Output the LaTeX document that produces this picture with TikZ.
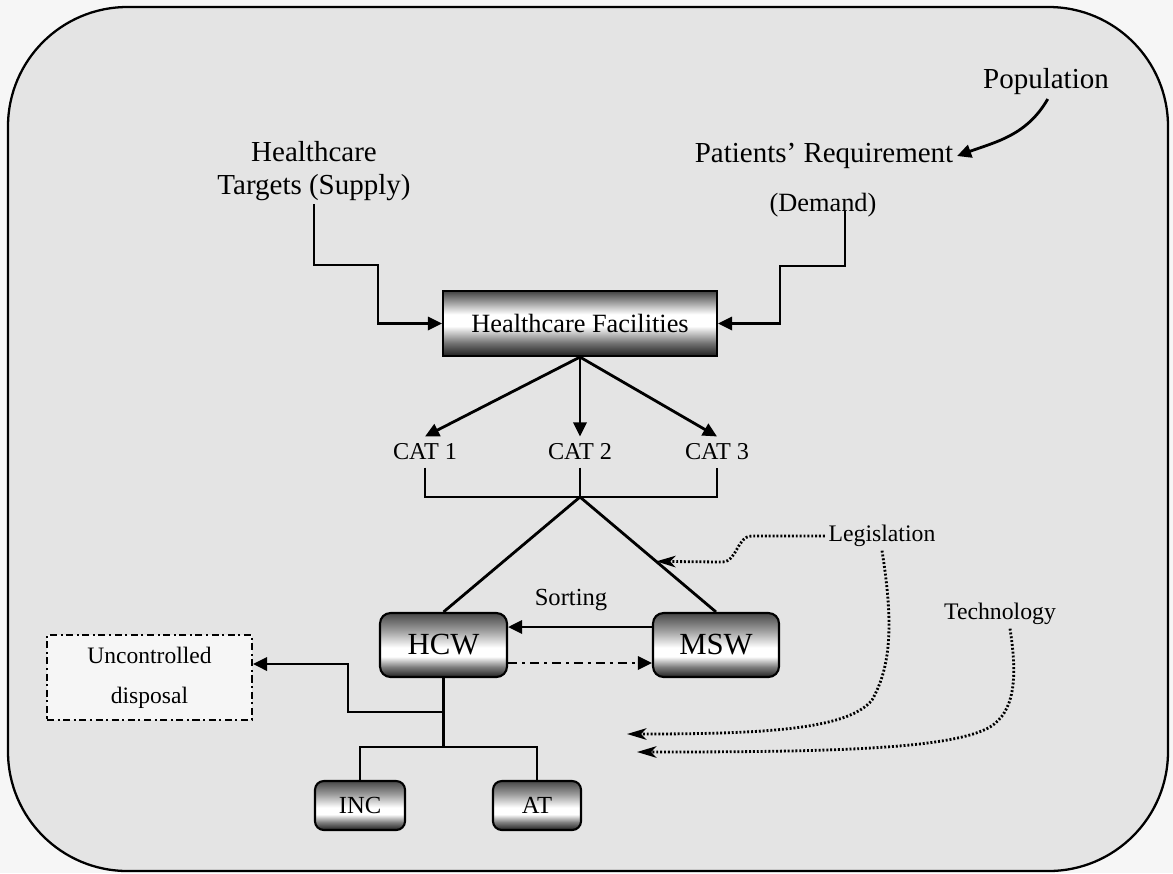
\documentclass[tikz,border=0pt]{standalone}
\usepackage{fontspec}
\setmainfont{Liberation Serif}
\usetikzlibrary{arrows.meta,calc}

\definecolor{paper}{RGB}{228,228,228}
\definecolor{margin}{RGB}{246,246,246}
\colorlet{shA}{black!88}
\colorlet{shB}{black!55}
\colorlet{shC}{black!45}
\colorlet{shD}{black!74}
\colorlet{shE}{black!87}
\colorlet{shF}{black!50}
\colorlet{shG}{black!40}
\colorlet{shH}{black!72}

% metallic bar shadings (path spans 25bp..75bp, bottom to top)
\pgfdeclareverticalshading{hfshade}{100bp}{color(0bp)=(shA); color(25bp)=(shA); color(35bp)=(shB); color(48bp)=(white); color(57bp)=(white); color(68bp)=(shC); color(75bp)=(shD); color(100bp)=(shD)}
\pgfdeclareverticalshading{btnshade}{100bp}{color(0bp)=(shE); color(25bp)=(shE); color(33bp)=(shF); color(41bp)=(white); color(48bp)=(white); color(62bp)=(shG); color(75bp)=(shH); color(100bp)=(shH)}

\begin{document}
\begin{tikzpicture}[x=0.02cm,y=-0.02cm,
  lbl/.style={inner sep=2pt, align=center, font=\fontsize{16.5pt}{18.7pt}\selectfont},
  small/.style={inner sep=2pt, font=\fontsize{13.5pt}{16pt}\selectfont},
  catlbl/.style={inner sep=4pt, font=\fontsize{13.8pt}{15pt}\selectfont},
  ln/.style={line width=1.6pt},
  arr/.style={line width=1.6pt, -{Triangle[length=8pt,width=7.5pt]}},
  dasharr/.style={line width=1.6pt, dash pattern=on 5pt off 3pt on 1.5pt off 3pt, -{Triangle[length=8pt,width=7.5pt]}},
  dotarr/.style={line width=1.6pt, dash pattern=on 1.1pt off 1.1pt, -{Stealth[length=11pt,width=6.5pt,inset=3pt]}},
  hfbox/.style={draw, line width=1.2pt, shade, shading=hfshade, inner sep=0pt,
    minimum width=5.48cm, minimum height=1.3cm, font=\fontsize{15pt}{18pt}\selectfont},
  btn/.style={draw, line width=1.2pt, rounded corners=6pt, shade, shading=btnshade, inner sep=0pt},
]
\useasboundingbox (0,0) rectangle (1173,873);
\fill[margin] (0,0) rectangle (1173,873);
\draw[line width=1.3pt, fill=paper, rounded corners=68pt] (8,7) rectangle (1168,871);

% supply and demand
\node[lbl] (pop) at (1046,82) {Population};
\node[lbl] (ht) at (314,171) {Healthcare\\Targets (Supply)};
\node[lbl] (pr) at (824,156) {Patients’ Requirement};
\node[lbl, font=\fontsize{15pt}{18pt}\selectfont] (dm) at (823,205) {(Demand)};
\coordinate (dmtap) at (845,211);

\node[hfbox] (hf) at (580,323.5) {Healthcare Facilities};

\draw[arr] ([xshift=1pt]pop.south) to[out=-120,in=20] (pr.east);
\draw[arr] (ht.south) |- (378,265) |- (hf.west);
\draw[arr] (dmtap) |- (780,266) |- (hf.east);

% waste categories
\node[catlbl] (c1) at (425,452) {CAT 1};
\node[catlbl] (c2) at (580,452) {CAT 2};
\node[catlbl] (c3) at (717,452) {CAT 3};
\draw[arr] (hf.south) -- (c1.north);
\draw[arr] (hf.south) -- (c2.north);
\draw[arr] (hf.south) -- (c3.north);

\coordinate (j) at (580,497);
\draw[ln] (c1.south) |- (j) -| (c3.south);
\draw[ln] (c2.south) -- (j);

% waste streams
\node[btn, minimum width=2.54cm, minimum height=1.28cm, font=\fontsize{17.5pt}{20pt}\selectfont] (hcw) at (443.5,645) {HCW};
\node[btn, minimum width=2.52cm, minimum height=1.28cm, font=\fontsize{17.5pt}{20pt}\selectfont] (msw) at (716,645) {MSW};
\draw[ln] (hcw.north) -- (j) -- (msw.north);

\node[inner sep=2pt, font=\fontsize{14pt}{16pt}\selectfont] (srt) at (571,600) {Sorting};
\draw[arr] ([yshift=0.36cm]msw.west) -- ([yshift=0.36cm]hcw.east);
\draw[dasharr] ([yshift=-0.36cm]hcw.east) -- ([yshift=-0.36cm]msw.west);

% treatment and disposal
\node[draw, line width=1.1pt, dash pattern=on 4pt off 2pt on 1.2pt off 2pt, fill=margin,
  minimum width=4.1cm, minimum height=1.7cm, align=center,
  font=\fontsize{13.4pt}{22.7pt}\selectfont] (ud) at (149.5,677.5) {Uncontrolled\\disposal};
\node[btn, rounded corners=5pt, minimum width=1.8cm, minimum height=0.98cm, font=\fontsize{14pt}{16pt}\selectfont] (inc) at (360,805.5) {INC};
\node[btn, rounded corners=5pt, minimum width=1.76cm, minimum height=0.98cm, font=\fontsize{14pt}{16pt}\selectfont] (at) at (537,805.5) {AT};

\coordinate (j3) at (443.5,712);
\coordinate (j2) at (443.5,747);
\draw[ln] (hcw.south) -- (j2);
\draw[ln] (inc.north) |- (j2) -| (at.north);
\draw[arr] (j3) -- (348,712) |- ([yshift=0.27cm]ud.east);

% external influences
\node[small] (leg) at (882,536) {Legislation};
\node[small] (tech) at (1000,614) {Technology};
\coordinate (legtip) at ($(j)!0.56!(msw.north)$);
\coordinate (lawtip) at (627,734);
\coordinate (techtip) at (637,752);

\draw[dotarr] (leg.west) -- (752,536) to[out=180,in=0] (722,562) -- (legtip);
\draw[dotarr] (leg.south) .. controls (893,620) and (892,665) .. (872,700)
  .. controls (848,730) and (760,734) .. (lawtip);
\draw[dotarr] ($(tech.south)+(10,0)$) .. controls (1018,680) and (1014,712) .. (990,727)
  .. controls (950,750) and (820,752) .. (techtip);
\end{tikzpicture}
\end{document}
